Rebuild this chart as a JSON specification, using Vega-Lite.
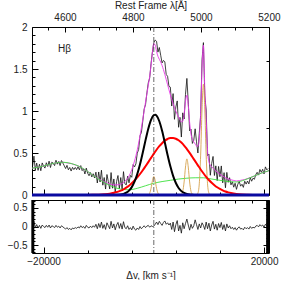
{
"$schema": "https://vega.github.io/schema/vega-lite/v6.json",
"padding": {"left": 7, "top": 0, "right": 0, "bottom": 0},
"spacing": 5,
"bounds": "flush",
"config": {
 "view": {"stroke": null},
 "axis": {"domainColor": "#000", "tickColor": "#000", "labelColor": "#222", "titleColor": "#222", "labelFont": "Liberation Sans", "titleFont": "Liberation Sans", "labelFontSize": 10, "titleFontSize": 10, "titleFontWeight": "normal", "labelFlush": false, "labelOverlap": false, "grid": false, "domainWidth": 1, "tickWidth": 1}
},
"datasets": {
 "spec": [
{"v":-22000,"y":0.340,"r":0.02},{"v":-21750,"y":0.463,"r":0.14},{"v":-21500,"y":0.296,"r":-0.03},{"v":-21250,"y":0.380,"r":0.05},{"v":-21000,"y":0.293,"r":-0.04},{"v":-20750,"y":0.366,"r":0.03},{"v":-20500,"y":0.289,"r":-0.05},{"v":-20250,"y":0.382,"r":0.04},{"v":-20000,"y":0.345,"r":0.00},
{"v":-19750,"y":0.320,"r":-0.03},{"v":-19500,"y":0.384,"r":0.03},{"v":-19250,"y":0.339,"r":-0.02},{"v":-19000,"y":0.403,"r":0.04},{"v":-18750,"y":0.327,"r":-0.04},{"v":-18500,"y":0.391,"r":0.02},{"v":-18250,"y":0.376,"r":0.00},{"v":-18000,"y":0.350,"r":-0.03},{"v":-17750,"y":0.414,"r":0.03},{"v":-17500,"y":0.367,"r":-0.02},{"v":-17250,"y":0.399,"r":0.01},{"v":-17000,"y":0.350,"r":-0.04},{"v":-16750,"y":0.410,"r":0.02},{"v":-16500,"y":0.380,"r":-0.01},
{"v":-16250,"y":0.348,"r":-0.04},{"v":-16000,"y":0.315,"r":-0.07},{"v":-15750,"y":0.353,"r":-0.03},{"v":-15500,"y":0.300,"r":-0.08},{"v":-15250,"y":0.328,"r":-0.05},{"v":-15000,"y":0.285,"r":-0.09},{"v":-14750,"y":0.329,"r":-0.04},{"v":-14500,"y":0.303,"r":-0.06},{"v":-14250,"y":0.328,"r":-0.03},{"v":-14000,"y":0.302,"r":-0.05},
{"v":-13750,"y":0.336,"r":-0.01},{"v":-13500,"y":0.300,"r":-0.04},{"v":-13250,"y":0.350,"r":0.02},{"v":-13000,"y":0.290,"r":-0.03},{"v":-12750,"y":0.310,"r":0.00},{"v":-12500,"y":0.250,"r":-0.05},{"v":-12250,"y":0.320,"r":0.03},{"v":-12000,"y":0.260,"r":-0.02},{"v":-11750,"y":0.229,"r":-0.04},{"v":-11500,"y":0.267,"r":0.01},{"v":-11250,"y":0.215,"r":-0.03},{"v":-11000,"y":0.253,"r":0.02},{"v":-10750,"y":0.203,"r":-0.02},{"v":-10500,"y":0.272,"r":0.06},
{"v":-10250,"y":0.143,"r":-0.06},{"v":-10000,"y":0.274,"r":0.08},{"v":-9750,"y":0.155,"r":-0.03},{"v":-9500,"y":0.295,"r":0.12},{"v":-9250,"y":0.117,"r":-0.05},{"v":-9000,"y":0.208,"r":0.05},{"v":-8750,"y":0.071,"r":-0.08},{"v":-8500,"y":0.244,"r":0.10},{"v":-8250,"y":0.158,"r":0.02},{"v":-8000,"y":0.072,"r":-0.06},{"v":-7750,"y":0.267,"r":0.14},{"v":-7500,"y":0.081,"r":-0.04},{"v":-7250,"y":0.191,"r":0.07},{"v":-7000,"y":0.031,"r":-0.09},{"v":-6750,"y":0.162,"r":0.04},{"v":-6500,"y":0.232,"r":0.11},{"v":-6250,"y":0.075,"r":-0.05},{"v":-6000,"y":0.208,"r":0.08},{"v":-5750,"y":0.068,"r":-0.07},{"v":-5500,"y":0.278,"r":0.13},{"v":-5250,"y":0.134,"r":-0.03},
{"v":-5000,"y":0.120,"r":-0.06},{"v":-4750,"y":0.223,"r":0.02},{"v":-4500,"y":0.145,"r":-0.08},{"v":-4250,"y":0.233,"r":-0.03},{"v":-4000,"y":0.211,"r":-0.09},{"v":-3750,"y":0.363,"r":0.01},{"v":-3500,"y":0.334,"r":-0.07},{"v":-3250,"y":0.371,"r":-0.10},{"v":-3000,"y":0.497,"r":-0.04},{"v":-2750,"y":0.542,"r":-0.08},{"v":-2500,"y":0.706,"r":0.00},{"v":-2250,"y":0.744,"r":-0.06},{"v":-2000,"y":0.881,"r":-0.02},
{"v":-1750,"y":1.024,"r":0.02},{"v":-1500,"y":1.076,"r":-0.03},{"v":-1250,"y":1.216,"r":0.01},{"v":-1000,"y":1.336,"r":0.03},{"v":-750,"y":1.392,"r":-0.02},{"v":-500,"y":1.566,"r":0.02},{"v":-250,"y":1.703,"r":0.00},{"v":0,"y":1.812,"r":0.01},
{"v":250,"y":1.845,"r":0.06},{"v":500,"y":1.829,"r":0.12},{"v":750,"y":1.701,"r":0.05},{"v":1000,"y":1.756,"r":0.14},{"v":1250,"y":1.663,"r":0.08},{"v":1500,"y":1.572,"r":0.03},{"v":1750,"y":1.602,"r":0.11},{"v":2000,"y":1.586,"r":0.15},{"v":2250,"y":1.435,"r":0.06},{"v":2500,"y":1.413,"r":0.10},{"v":2750,"y":1.293,"r":0.04},{"v":3000,"y":1.284,"r":0.09},
{"v":3250,"y":1.059,"r":-0.08},{"v":3500,"y":1.207,"r":0.12},{"v":3750,"y":0.901,"r":-0.14},{"v":4000,"y":1.048,"r":0.05},{"v":4250,"y":1.120,"r":0.16},{"v":4500,"y":0.806,"r":-0.12},{"v":4750,"y":0.924,"r":0.03},{"v":5000,"y":0.690,"r":-0.18},{"v":5250,"y":0.978,"r":0.10},{"v":5500,"y":0.905,"r":-0.06},{"v":5750,"y":1.197,"r":0.08},{"v":6000,"y":1.388,"r":0.20},
{"v":6250,"y":1.107,"r":0.04},{"v":6500,"y":0.764,"r":-0.10},{"v":6750,"y":0.785,"r":0.06},{"v":7000,"y":0.614,"r":-0.05},{"v":7250,"y":0.652,"r":0.02},{"v":7500,"y":0.788,"r":0.18},{"v":7750,"y":0.633,"r":0.05},{"v":8000,"y":0.500,"r":-0.08},{"v":8250,"y":0.736,"r":0.07},{"v":8500,"y":0.944,"r":-0.04},{"v":8750,"y":1.609,"r":0.10},{"v":9000,"y":1.814,"r":0.03},
{"v":9250,"y":1.183,"r":-0.08},{"v":9500,"y":1.012,"r":0.12},{"v":9750,"y":0.468,"r":-0.06},{"v":10000,"y":0.486,"r":0.09},{"v":10250,"y":0.235,"r":-0.12},{"v":10500,"y":0.376,"r":0.04},{"v":10750,"y":0.459,"r":0.14},{"v":11000,"y":0.232,"r":-0.07},{"v":11250,"y":0.347,"r":0.06},{"v":11500,"y":0.172,"r":-0.10},{"v":11750,"y":0.340,"r":0.08},{"v":12000,"y":0.217,"r":-0.03},{"v":12250,"y":0.346,"r":0.11},{"v":12500,"y":0.145,"r":-0.08},{"v":12750,"y":0.266,"r":0.05},{"v":13000,"y":0.086,"r":-0.12},{"v":13250,"y":0.269,"r":0.07},{"v":13500,"y":0.151,"r":-0.04},{"v":13750,"y":0.206,"r":0.02},
{"v":14000,"y":0.121,"r":-0.06},{"v":14250,"y":0.157,"r":-0.02},{"v":14500,"y":0.093,"r":-0.08},{"v":14750,"y":0.140,"r":-0.03},{"v":15000,"y":0.067,"r":-0.10},{"v":15250,"y":0.129,"r":-0.04},{"v":15500,"y":0.161,"r":-0.01},{"v":15750,"y":0.105,"r":-0.07},{"v":16000,"y":0.128,"r":-0.05},{"v":16250,"y":0.091,"r":-0.09},{"v":16500,"y":0.164,"r":-0.02},{"v":16750,"y":0.130,"r":-0.06},{"v":17000,"y":0.166,"r":-0.03},{"v":17250,"y":0.132,"r":-0.07},{"v":17500,"y":0.207,"r":0.00},{"v":17750,"y":0.164,"r":-0.05},{"v":18000,"y":0.200,"r":-0.02},{"v":18250,"y":0.187,"r":-0.04},{"v":18500,"y":0.243,"r":0.01},
{"v":18750,"y":0.270,"r":0.03},{"v":19000,"y":0.237,"r":-0.01},{"v":19250,"y":0.304,"r":0.05},{"v":19500,"y":0.270,"r":0.01},{"v":19750,"y":0.306,"r":0.04},{"v":20000,"y":0.251,"r":-0.02},{"v":20250,"y":0.335,"r":0.06},{"v":20500,"y":0.299,"r":0.02},{"v":20750,"y":0.316,"r":0.03}
 ],
 "tot": [
{"v":-22200,"y":0.318},{"v":-22000,"y":0.320},{"v":-21500,"y":0.326},{"v":-21000,"y":0.333},{"v":-20500,"y":0.339},{"v":-20000,"y":0.345},{"v":-19500,"y":0.354},{"v":-19000,"y":0.363},{"v":-18500,"y":0.371},{"v":-18000,"y":0.380},{"v":-17500,"y":0.387},{"v":-17000,"y":0.390},{"v":-16500,"y":0.390},{"v":-16000,"y":0.385},{"v":-15500,"y":0.380},{"v":-15000,"y":0.375},{"v":-14500,"y":0.363},{"v":-14000,"y":0.352},{"v":-13500,"y":0.340},{"v":-13000,"y":0.320},{"v":-12500,"y":0.300},{"v":-12000,"y":0.280},{"v":-11500,"y":0.257},{"v":-11000,"y":0.233},{"v":-10500,"y":0.212},{"v":-10000,"y":0.194},{"v":-9500,"y":0.175},{"v":-9000,"y":0.158},{"v":-8500,"y":0.144},{"v":-8000,"y":0.132},{"v":-7500,"y":0.121},{"v":-7000,"y":0.121},{"v":-6500,"y":0.122},{"v":-6000,"y":0.128},{"v":-5500,"y":0.148},{"v":-5000,"y":0.180},{"v":-4500,"y":0.225},{"v":-4000,"y":0.301},{"v":-3500,"y":0.404},{"v":-3000,"y":0.537},{"v":-2500,"y":0.706},{"v":-2000,"y":0.901},{"v":-1500,"y":1.106},{"v":-1250,"y":1.206},{"v":-1000,"y":1.306},{"v":-750,"y":1.412},{"v":-500,"y":1.546},{"v":-250,"y":1.703},{"v":0,"y":1.802},{"v":250,"y":1.785},{"v":500,"y":1.709},{"v":750,"y":1.651},{"v":1000,"y":1.616},{"v":1250,"y":1.583},{"v":1500,"y":1.542},{"v":1750,"y":1.492},{"v":2000,"y":1.436},{"v":2250,"y":1.375},{"v":2500,"y":1.313},{"v":2750,"y":1.253},{"v":3000,"y":1.194},{"v":3250,"y":1.139},{"v":3500,"y":1.087},{"v":3750,"y":1.041},{"v":4000,"y":0.998},{"v":4250,"y":0.960},{"v":4500,"y":0.926},{"v":4750,"y":0.894},{"v":5000,"y":0.870},{"v":5250,"y":0.878},{"v":5500,"y":0.965},{"v":5750,"y":1.117},{"v":6000,"y":1.188},{"v":6250,"y":1.067},{"v":6500,"y":0.864},{"v":6750,"y":0.725},{"v":7000,"y":0.664},{"v":7250,"y":0.632},{"v":7500,"y":0.608},{"v":7750,"y":0.583},{"v":8000,"y":0.580},{"v":8250,"y":0.666},{"v":8500,"y":0.984},{"v":8750,"y":1.509},{"v":9000,"y":1.784},{"v":9250,"y":1.263},{"v":9500,"y":0.892},{"v":9750,"y":0.528},{"v":10000,"y":0.396},{"v":10250,"y":0.355},{"v":10500,"y":0.336},{"v":11000,"y":0.302},{"v":11500,"y":0.272},{"v":12000,"y":0.247},{"v":12500,"y":0.225},{"v":13000,"y":0.206},{"v":13500,"y":0.191},{"v":14000,"y":0.181},{"v":14500,"y":0.173},{"v":15000,"y":0.167},{"v":15500,"y":0.171},{"v":16000,"y":0.178},{"v":16500,"y":0.184},{"v":17000,"y":0.196},{"v":17500,"y":0.207},{"v":18000,"y":0.220},{"v":18500,"y":0.233},{"v":19000,"y":0.247},{"v":19500,"y":0.260},{"v":20000,"y":0.271},{"v":20500,"y":0.279},{"v":20900,"y":0.290},{"v":21000,"y":0.292}
 ],
 "fe": [
{"v":-22200,"y":0.318},{"v":-22000,"y":0.32},{"v":-20000,"y":0.345},{"v":-18000,"y":0.38},{"v":-16500,"y":0.39},{"v":-15000,"y":0.375},{"v":-13500,"y":0.34},{"v":-12000,"y":0.28},{"v":-10500,"y":0.21},{"v":-9000,"y":0.15},{"v":-7500,"y":0.10},{"v":-6000,"y":0.07},{"v":-4500,"y":0.062},{"v":-3000,"y":0.08},{"v":-1500,"y":0.11},{"v":0,"y":0.14},{"v":1500,"y":0.16},{"v":3000,"y":0.175},{"v":4500,"y":0.19},{"v":6000,"y":0.20},{"v":7500,"y":0.205},{"v":9000,"y":0.205},{"v":10500,"y":0.19},{"v":12000,"y":0.175},{"v":13500,"y":0.16},{"v":15000,"y":0.155},{"v":16500,"y":0.18},{"v":18000,"y":0.22},{"v":19500,"y":0.26},{"v":20900,"y":0.29},{"v":21000,"y":0.292}
 ],
 "bn": [
{"v":-8000,"y":0},{"v":-7500,"y":0},{"v":-7000,"y":0.001},{"v":-6500,"y":0.003},{"v":-6000,"y":0.006},{"v":-5500,"y":0.013},{"v":-5000,"y":0.027},{"v":-4500,"y":0.052},{"v":-4000,"y":0.094},{"v":-3500,"y":0.158},{"v":-3000,"y":0.248},{"v":-2500,"y":0.366},{"v":-2000,"y":0.506},{"v":-1500,"y":0.653},{"v":-1000,"y":0.79},{"v":-500,"y":0.895},{"v":0,"y":0.95},{"v":250,"y":0.955},{"v":500,"y":0.944},{"v":1000,"y":0.878},{"v":1500,"y":0.765},{"v":2000,"y":0.624},{"v":2500,"y":0.476},{"v":3000,"y":0.341},{"v":3500,"y":0.228},{"v":4000,"y":0.143},{"v":4500,"y":0.084},{"v":5000,"y":0.046},{"v":5500,"y":0.024},{"v":6000,"y":0.011},{"v":6500,"y":0.005},{"v":7000,"y":0.002},{"v":7500,"y":0.001},{"v":8000,"y":0}
 ],
 "br": [
{"v":-13000,"y":0},{"v":-12000,"y":0.001},{"v":-11000,"y":0.002},{"v":-10000,"y":0.0035},{"v":-9000,"y":0.008},{"v":-8000,"y":0.015},{"v":-7000,"y":0.029},{"v":-6000,"y":0.052},{"v":-5500,"y":0.068},{"v":-5000,"y":0.088},{"v":-4500,"y":0.111},{"v":-4000,"y":0.139},{"v":-3500,"y":0.172},{"v":-3000,"y":0.209},{"v":-2500,"y":0.25},{"v":-2000,"y":0.295},{"v":-1500,"y":0.343},{"v":-1000,"y":0.392},{"v":-500,"y":0.442},{"v":0,"y":0.492},{"v":500,"y":0.539},{"v":1000,"y":0.581},{"v":1500,"y":0.617},{"v":2000,"y":0.647},{"v":2500,"y":0.667},{"v":3000,"y":0.678},{"v":3500,"y":0.679},{"v":4000,"y":0.67},{"v":4500,"y":0.652},{"v":5000,"y":0.624},{"v":5500,"y":0.589},{"v":6000,"y":0.547},{"v":6500,"y":0.502},{"v":7000,"y":0.452},{"v":7500,"y":0.403},{"v":8000,"y":0.353},{"v":8500,"y":0.304},{"v":9000,"y":0.259},{"v":9500,"y":0.217},{"v":10000,"y":0.179},{"v":10500,"y":0.146},{"v":11000,"y":0.117},{"v":11500,"y":0.092},{"v":12000,"y":0.072},{"v":12500,"y":0.055},{"v":13000,"y":0.041},{"v":13500,"y":0.031},{"v":14000,"y":0.023},{"v":15000,"y":0.012},{"v":16000,"y":0.006},{"v":17000,"y":0.003},{"v":18000,"y":0.001},{"v":19000,"y":0}
 ],
 "nar": [
{"c":"n1","v":-1250,"y":0},{"c":"n1","v":-1000,"y":0.004},{"c":"n1","v":-750,"y":0.022},{"c":"n1","v":-500,"y":0.079},{"c":"n1","v":-250,"y":0.171},{"c":"n1","v":0,"y":0.22},{"c":"n1","v":250,"y":0.171},{"c":"n1","v":500,"y":0.079},{"c":"n1","v":750,"y":0.022},{"c":"n1","v":1000,"y":0.004},{"c":"n1","v":1250,"y":0},
{"c":"n2","v":4750,"y":0},{"c":"n2","v":5000,"y":0.007},{"c":"n2","v":5250,"y":0.043},{"c":"n2","v":5500,"y":0.155},{"c":"n2","v":5750,"y":0.333},{"c":"n2","v":6000,"y":0.43},{"c":"n2","v":6250,"y":0.333},{"c":"n2","v":6500,"y":0.155},{"c":"n2","v":6750,"y":0.043},{"c":"n2","v":7000,"y":0.007},{"c":"n2","v":7250,"y":0},
{"c":"n3","v":7750,"y":0},{"c":"n3","v":8000,"y":0.022},{"c":"n3","v":8250,"y":0.133},{"c":"n3","v":8500,"y":0.475},{"c":"n3","v":8750,"y":1.023},{"c":"n3","v":9000,"y":1.32},{"c":"n3","v":9250,"y":1.023},{"c":"n3","v":9500,"y":0.475},{"c":"n3","v":9750,"y":0.133},{"c":"n3","v":10000,"y":0.022},{"c":"n3","v":10250,"y":0}
 ],
 "zero": [{"v":-22100,"y":0},{"v":20900,"y":0}],
 "vline": [{"v":0}],
 "edges": [{"v":-21950},{"v":20650}],
 "lab": [{"v":-16200,"y":1.74,"t":"Hβ"}],
 "lam": [{"lam":4600,"yy":1,"r":0},{"lam":5000,"yy":1,"r":0}]
},
"vconcat": [
 {
  "width": 237, "height": 168,
  "layer": [
   {
    "layer": [
     {"data": {"name": "spec"}, "mark": {"type": "line", "color": "#111", "strokeWidth": 0.8, "clip": true},
      "encoding": {
       "x": {"field": "v", "type": "quantitative", "scale": {"domain": [-22100, 20900], "nice": false, "zero": false},
             "axis": {"orient": "bottom", "title": null, "labels": false, "values": [-20000,-18000,-16000,-14000,-12000,-10000,-8000,-6000,-4000,-2000,0,2000,4000,6000,8000,10000,12000,14000,16000,18000,20000], "tickSize": {"condition": {"test": "datum.value % 10000 === 0", "value": -6}, "value": -3}}},
       "y": {"field": "y", "type": "quantitative", "scale": {"domain": [0, 2], "nice": false, "zero": false},
             "axis": {"orient": "right", "title": null, "labels": false, "values": [0,0.1,0.2,0.3,0.4,0.5,0.6,0.7,0.8,0.9,1,1.1,1.2,1.3,1.4,1.5,1.6,1.7,1.8,1.9,2], "tickSize": {"condition": {"test": "datum.value % 0.5 === 0", "value": -6}, "value": -3}}}
      }},
     {"data": {"name": "tot"}, "mark": {"type": "line", "color": "#E838E8", "strokeWidth": 0.9, "interpolate": "monotone", "clip": true},
      "encoding": {"x": {"field": "v", "type": "quantitative"}, "y": {"field": "y", "type": "quantitative"}}},
     {"data": {"name": "fe"}, "mark": {"type": "line", "color": "#3CE03C", "strokeWidth": 0.9, "interpolate": "monotone", "clip": true},
      "encoding": {"x": {"field": "v", "type": "quantitative"}, "y": {"field": "y", "type": "quantitative"}}},
     {"data": {"name": "nar"}, "mark": {"type": "line", "color": "#D6A24C", "strokeWidth": 0.9, "interpolate": "monotone", "clip": true},
      "encoding": {"x": {"field": "v", "type": "quantitative"}, "y": {"field": "y", "type": "quantitative"}, "detail": {"field": "c"}}},
     {"data": {"name": "br"}, "mark": {"type": "line", "color": "#FF0000", "strokeWidth": 2, "interpolate": "monotone", "clip": true},
      "encoding": {"x": {"field": "v", "type": "quantitative"}, "y": {"field": "y", "type": "quantitative"}}},
     {"data": {"name": "bn"}, "mark": {"type": "line", "color": "#000000", "strokeWidth": 2, "interpolate": "monotone", "clip": true},
      "encoding": {"x": {"field": "v", "type": "quantitative"}, "y": {"field": "y", "type": "quantitative"}}},
     {"data": {"name": "zero"}, "mark": {"type": "line", "color": "#0A0AA0", "strokeWidth": 3},
      "encoding": {"x": {"field": "v", "type": "quantitative"}, "y": {"field": "y", "type": "quantitative"}}},
     {"data": {"name": "vline"}, "mark": {"type": "rule", "color": "#444", "strokeWidth": 0.8, "strokeDash": [5, 2, 1, 2]},
      "encoding": {"x": {"field": "v", "type": "quantitative"}}},
     {"data": {"name": "lab"}, "mark": {"type": "text", "font": "Liberation Sans", "fontSize": 10, "color": "#222", "align": "center", "baseline": "middle"},
      "encoding": {"x": {"field": "v", "type": "quantitative"}, "y": {"field": "y", "type": "quantitative"}, "text": {"field": "t"}}}
    ]
   },
   {"data": {"name": "lam"}, "mark": {"type": "point", "opacity": 0},
    "encoding": {
     "x": {"field": "lam", "type": "quantitative", "scale": {"domain": [4502.97, 5200.24], "nice": false, "zero": false},
           "axis": {"orient": "top", "title": "Rest Frame λ[Å]", "titlePadding": 0, "values": [4550,4600,4650,4700,4750,4800,4850,4900,4950,5000,5050,5100,5150,5200], "labelExpr": "datum.value % 200 === 0 ? format(datum.value, 'd') : ''", "labelPadding": 10, "tickSize": {"condition": {"test": "datum.value % 200 === 0", "value": -5}, "value": -3}}},
     "y": {"field": "yy", "type": "quantitative", "scale": {"domain": [0, 2], "nice": false, "zero": false},
           "axis": {"orient": "left", "title": null, "values": [0,0.1,0.2,0.3,0.4,0.5,0.6,0.7,0.8,0.9,1,1.1,1.2,1.3,1.4,1.5,1.6,1.7,1.8,1.9,2], "labelExpr": "datum.value % 0.5 === 0 ? format(datum.value, '~g') : ''", "labelPadding": 11, "tickSize": {"condition": {"test": "datum.value % 0.5 === 0", "value": -6}, "value": -3}}}
    }}
  ],
  "resolve": {"scale": {"x": "independent", "y": "independent"}}
 },
 {
  "width": 237, "height": 53,
  "layer": [
   {
    "layer": [
     {"data": {"name": "spec"}, "mark": {"type": "line", "color": "#111", "strokeWidth": 0.8, "clip": true},
      "encoding": {
       "x": {"field": "v", "type": "quantitative", "scale": {"domain": [-22100, 20900], "nice": false, "zero": false},
             "axis": {"orient": "bottom", "title": "Δv, [km s⁻¹]", "titlePadding": 1, "values": [-20000,-18000,-16000,-14000,-12000,-10000,-8000,-6000,-4000,-2000,0,2000,4000,6000,8000,10000,12000,14000,16000,18000,20000], "labelExpr": "datum.value % 10000 === 0 ? format(datum.value, 'd') : ''", "labelPadding": 9, "tickSize": {"condition": {"test": "datum.value % 10000 === 0", "value": -6}, "value": -3}}},
       "y": {"field": "r", "type": "quantitative", "scale": {"domain": [-0.716, 0.716], "nice": false, "zero": false},
             "axis": {"orient": "left", "title": null, "values": [-0.7,-0.6,-0.5,-0.4,-0.3,-0.2,-0.1,0,0.1,0.2,0.3,0.4,0.5,0.6,0.7], "labelExpr": "datum.value % 0.5 === 0 ? format(datum.value, '~g') : ''", "labelPadding": 11, "tickSize": {"condition": {"test": "datum.value % 0.5 === 0", "value": -6}, "value": -3}}}
      }},
     {"data": {"name": "vline"}, "mark": {"type": "rule", "color": "#444", "strokeWidth": 0.8, "strokeDash": [5, 2, 1, 2]},
      "encoding": {"x": {"field": "v", "type": "quantitative"}}},
     {"data": {"name": "edges"}, "mark": {"type": "rule", "color": "#000", "strokeWidth": 3},
      "encoding": {"x": {"field": "v", "type": "quantitative"}}}
    ]
   },
   {"data": {"name": "lam"}, "mark": {"type": "point", "opacity": 0},
    "encoding": {
     "x": {"field": "lam", "type": "quantitative", "scale": {"domain": [4502.97, 5200.24], "nice": false, "zero": false},
           "axis": {"orient": "top", "title": null, "labels": false, "values": [4550,4600,4650,4700,4750,4800,4850,4900,4950,5000,5050,5100,5150,5200], "tickSize": -3}},
     "y": {"field": "r", "type": "quantitative", "scale": {"domain": [-0.716, 0.716], "nice": false, "zero": false},
           "axis": {"orient": "right", "title": null, "labels": false, "values": [-0.7,-0.6,-0.5,-0.4,-0.3,-0.2,-0.1,0,0.1,0.2,0.3,0.4,0.5,0.6,0.7], "tickSize": {"condition": {"test": "datum.value % 0.5 === 0", "value": -6}, "value": -3}}}
    }}
  ],
  "resolve": {"scale": {"x": "independent", "y": "independent"}}
 }
]
}
